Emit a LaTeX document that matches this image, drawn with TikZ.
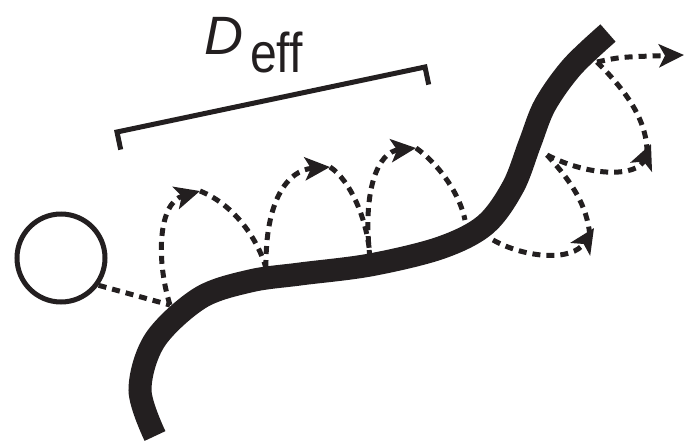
\documentclass[tikz,border=0pt]{standalone}
\usepackage{fontspec}
\setmainfont{Liberation Sans}
\usetikzlibrary{arrows.meta,calc}
\definecolor{inkblack}{RGB}{35,31,32}
\tikzset{
  strand/.style={line width=23pt, line cap=butt, color=inkblack},
  hop/.style={dash pattern=on 8pt off 6pt, line width=5pt, color=inkblack},
  hoptip/.style={hop, -{Stealth[length=25pt,width=23pt,inset=6pt]}},
  bracket/.style={line width=5pt, color=inkblack, line join=miter},
  probe/.style={circle, draw=inkblack, line width=5pt, minimum size=88pt, inner sep=0pt}
}
\begin{document}
\begin{tikzpicture}[x=1pt,y=-1pt]
\useasboundingbox (0,0) rectangle (684,444);

% DNA strand
\draw[strand] plot[smooth, tension=0.55] coordinates {
  (155,436) (140,390) (155,340) (200,298) (250,281) (300,274) (370,265)
  (440,248) (485,225) (513,187) (530,143) (545,105) (572,67) (608,33)};

% protein
\node[probe] (prot) at (61,258) {};

% contact points on the strand and hop apexes
\coordinate (c1) at (170,305);
\coordinate (c2) at (266,268);
\coordinate (c3) at (370,258);
\coordinate (c4) at (465,220);
\coordinate (c5) at (493,240);
\coordinate (c6) at (547,155);
\coordinate (c7) at (597,62);
\coordinate (a1) at (200,191);
\coordinate (a2) at (330,167);
\coordinate (a3) at (416,148);
\coordinate (a4) at (594,228);
\coordinate (a5) at (651,144);
\coordinate (a6) at (684,55);

% binding and hops along the strand
\draw[hop] (prot.-36) -- (c1);
\draw[hoptip] (c1) .. controls (156,260) and (158,203) .. (a1);
\draw[hop] (a1) .. controls (235,205) and (258,240) .. (c2);
\draw[hoptip] (c2) .. controls (265,200) and (288,170) .. (a2);
\draw[hop] (a2) .. controls (350,180) and (368,220) .. (c3);
\draw[hoptip] (c3) .. controls (362,190) and (378,152) .. (a3);
\draw[hop] (a3) .. controls (440,165) and (460,195) .. (c4);

% jumps off the strand
\draw[hoptip] (c5) .. controls (525,258) and (572,262) .. (a4);
\draw[hop] (c6) .. controls (570,180) and (588,205) .. ($(a4)+(-4,10)$);
\draw[hoptip] (c6) .. controls (590,177) and (637,177) .. (a5);
\draw[hop] (c7) .. controls (625,90) and (648,120) .. ($(a5)+(-4,11)$);
\draw[hoptip] (c7) .. controls (620,57) .. (a6);

% effective diffusion range
\coordinate (bl) at (117,132);
\coordinate (br) at (425,67);
\draw[bracket] ($(bl)+(3.7,17.6)$) -- (bl) -- (br) -- ($(br)+(3.7,17.6)$);
\node[anchor=base west, inner sep=0pt, text=inkblack] (dlab) at (204,55)
  {\fontsize{54}{54}\selectfont\itshape D};
\node[anchor=base west, inner sep=0pt, text=inkblack] (sublab) at (250,72)
  {\fontsize{56}{56}\selectfont\scalebox{0.86}[1]{eff}};
\end{tikzpicture}
\end{document}
